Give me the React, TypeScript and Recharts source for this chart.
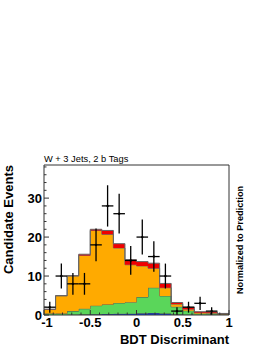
import {
  ComposedChart,
  Area,
  Scatter,
  ErrorBar,
  XAxis,
  YAxis,
  Label,
} from 'recharts';

// bin edges of the BDT output (16 bins of 0.125)
const binEdges = [
  -1, -0.875, -0.75, -0.625, -0.5, -0.375, -0.25, -0.125, 0, 0.125, 0.25, 0.375, 0.5, 0.625, 0.75,
  0.875, 1,
];

// stacked predictions, bottom to top
const blueBkg = [0, 0, 0.05, 0.1, 0.2, 0.25, 0.3, 0.35, 0.45, 0.5, 0.4, 0.15, 0.05, 0, 0, 0];
const greenBkg = [0.4, 0.4, 0.95, 1.5, 2.2, 2.45, 2.8, 2.95, 4.15, 6.5, 4.5, 1.95, 1.05, 0.35, 0.3, 0.15];
const orangeBkg = [1.0, 4.5, 9.0, 13.7, 19.3, 18.0, 14.1, 9.6, 8.0, 5.0, 2.1, 0.7, 0.4, 0.25, 0.2, 0.1];
const redSig = [0.1, 0.1, 0.1, 0.3, 0.3, 1.0, 1.1, 1.3, 1.1, 1.3, 1.1, 0.4, 0.5, 0.25, 0.3, 0.15];

// observed data
const dataX = [
  -0.9375, -0.8125, -0.6875, -0.5625, -0.4375, -0.3125, -0.1875, -0.0625, 0.0625, 0.1875, 0.3125,
  0.4375, 0.5625, 0.6875, 0.8125,
];
const dataY = [2, 10, 8, 8, 18, 28, 26, 14, 20, 15, 10, 1, 2, 3, 1];
const dataErr = [1.4, 3.2, 2.8, 2.8, 4.2, 5.3, 5.1, 3.7, 4.5, 3.9, 3.2, 1, 1.4, 1.7, 1];

const xTicks = [
  -1, -0.9, -0.8, -0.7, -0.6, -0.5, -0.4, -0.3, -0.2, -0.1, 0, 0.1, 0.2, 0.3, 0.4, 0.5, 0.6, 0.7,
  0.8, 0.9, 1,
];
const yTicks = [0, 2, 4, 6, 8, 10, 12, 14, 16, 18, 20, 22, 24, 26, 28, 30, 32, 34, 36, 38];

const histData = binEdges.map((x, i) => {
  const j = Math.min(i, blueBkg.length - 1);
  return { x, blue: blueBkg[j], green: greenBkg[j], orange: orangeBkg[j], red: redSig[j] };
});

const points = dataX.map((x, i) => ({ x, y: dataY[i], ey: dataErr[i], ex: 0.0625 }));

const FONT = '"Liberation Sans", Arial, Helvetica, sans-serif';
const FRAME = '#333';

const XTick = (props: any) => {
  const { x, y, payload } = props;
  const v = payload.value;
  const major = Math.abs(v * 2 - Math.round(v * 2)) < 1e-6;
  // the first label sits a little right of its tick, clear of the y-axis "0"
  const nudge = v === -1 ? 3 : 0;
  return (
    <g>
      <line x1={x} x2={x} y1={y} y2={y - (major ? 5 : 2.5)} stroke={FRAME} />
      {major && (
        <text x={x + nudge} y={y + 12} textAnchor="middle" fontFamily={FONT} fontWeight="bold" fontSize={13} fill="#000">
          {String(Math.round(v * 10) / 10)}
        </text>
      )}
    </g>
  );
};

const YTick = (props: any) => {
  const { x, y, payload } = props;
  const v = payload.value;
  const major = v % 10 === 0;
  return (
    <g>
      <line x1={x} x2={x + (major ? 5 : 2.5)} y1={y} y2={y} stroke={FRAME} />
      {major && (
        <text x={x - 2} y={y + 4.5} textAnchor="end" fontFamily={FONT} fontWeight="bold" fontSize={13} fill="#000">
          {v}
        </text>
      )}
    </g>
  );
};

const Dot = (props: any) => <circle cx={props.cx} cy={props.cy} r={1.2} fill="#000" />;

export default function App() {
  return (
    <div style={{ position: 'absolute', left: 0, top: 0, width: 270, height: 349, background: '#fff' }}>
      <ComposedChart
        width={270}
        height={349}
        data={histData}
        margin={{ top: 145, right: 0, bottom: 0, left: 0 }}
      >
        <XAxis
          dataKey="x"
          type="number"
          domain={[-1, 1]}
          ticks={xTicks}
          interval={0}
          allowDataOverflow
          height={34}
          tickSize={0}
          tickMargin={0}
          tickLine={false}
          stroke={FRAME}
          tick={<XTick />}
        >
          <Label
            content={(p: any) => (
              <text
                x={p.viewBox.x + p.viewBox.width}
                y={p.viewBox.y + 29}
                textAnchor="end"
                fontFamily={FONT}
                fontWeight="bold"
                fontSize={13}
                fill="#000"
              >
                BDT Discriminant
              </text>
            )}
          />
        </XAxis>
        <XAxis
          xAxisId="top"
          orientation="top"
          type="number"
          domain={[-1, 1]}
          height={20}
          tick={false}
          tickLine={false}
          stroke={FRAME}
        >
          <Label
            content={(p: any) => (
              <text x={p.viewBox.x} y={p.viewBox.y + p.viewBox.height - 3} fontFamily={FONT} fontSize={9.3} fill="#000">
                W + 3 Jets, 2 b Tags
              </text>
            )}
          />
        </XAxis>
        <YAxis
          type="number"
          domain={[0, 38.5]}
          ticks={yTicks}
          interval={0}
          allowDataOverflow
          width={44}
          tickSize={0}
          tickMargin={0}
          tickLine={false}
          stroke={FRAME}
          tick={<YTick />}
        >
          <Label
            content={(p: any) => (
              <text
                transform={`translate(${p.viewBox.x + p.viewBox.width - 31},${p.viewBox.y}) rotate(-90)`}
                textAnchor="end"
                fontFamily={FONT}
                fontWeight="bold"
                fontSize={13}
                fill="#000"
              >
                Candidate Events
              </text>
            )}
          />
        </YAxis>
        <YAxis
          yAxisId="right"
          orientation="right"
          type="number"
          domain={[0, 38.5]}
          width={41}
          tick={false}
          tickLine={false}
          stroke={FRAME}
        >
          <Label
            content={(p: any) => (
              <text
                transform={`translate(${p.viewBox.x + 14},${p.viewBox.y + p.viewBox.height / 2}) rotate(-90)`}
                textAnchor="middle"
                fontFamily={FONT}
                fontWeight="bold"
                fontSize={9.2}
                fill="#000"
              >
                Normalized to Prediction
              </text>
            )}
          />
        </YAxis>
        <Area
          dataKey="blue"
          stackId="h"
          type="stepAfter"
          fill="#0a3cf0"
          fillOpacity={1}
          stroke="#444"
          strokeWidth={1}
          isAnimationActive={false}
        />
        <Area
          dataKey="green"
          stackId="h"
          type="stepAfter"
          fill="#5ad65a"
          fillOpacity={1}
          stroke="#555"
          strokeWidth={1}
          isAnimationActive={false}
        />
        <Area
          dataKey="orange"
          stackId="h"
          type="stepAfter"
          fill="#ffaa00"
          fillOpacity={1}
          stroke="#666"
          strokeWidth={1}
          isAnimationActive={false}
        />
        <Area
          dataKey="red"
          stackId="h"
          type="stepAfter"
          fill="#f00000"
          fillOpacity={1}
          stroke="#666"
          strokeWidth={1}
          isAnimationActive={false}
        />
        <Scatter data={points} dataKey="y" shape={<Dot />} isAnimationActive={false}>
          <ErrorBar dataKey="ey" direction="y" width={0} stroke="#000" strokeWidth={1.3} />
          <ErrorBar dataKey="ex" direction="x" width={0} stroke="#000" strokeWidth={1.3} />
        </Scatter>
      </ComposedChart>
    </div>
  );
}
